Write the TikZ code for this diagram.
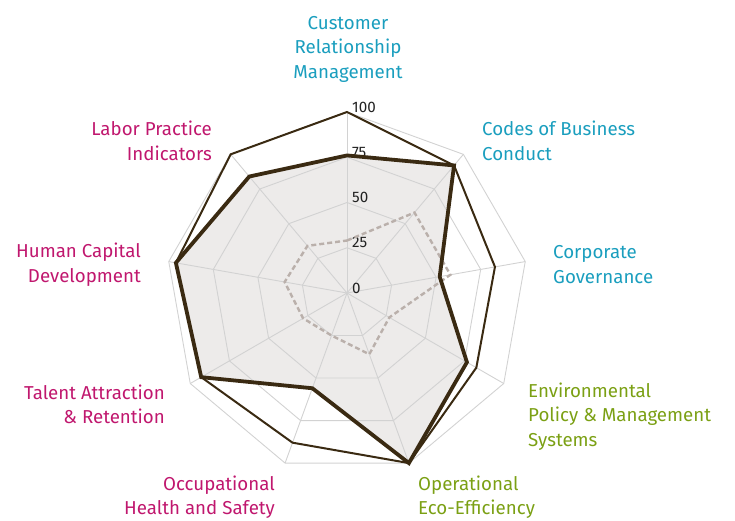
\documentclass[tikz,border=0pt]{standalone}
\usepackage{fontspec}
\setmainfont{Fira Sans}
\usetikzlibrary{arrows.meta}
\definecolor{labcyan}{HTML}{1A9EBE}
\definecolor{labgreen}{HTML}{7BA014}
\definecolor{labmagenta}{HTML}{C0176E}
\definecolor{darkbrown}{HTML}{3A2A12}
\definecolor{gridgray}{HTML}{D2D2D2}
\definecolor{fillgray}{HTML}{EDEBEA}
\definecolor{dashgray}{HTML}{BAB0AB}
\definecolor{numgray}{HTML}{222222}
\tikzset{
  gridline/.style={draw=gridgray, line width=0.9pt},
  maxline/.style={draw=darkbrown, line width=2pt, line join=miter},
  ownline/.style={draw=darkbrown, line width=3.8pt, line join=miter},
  avgline/.style={draw=dashgray, line width=2.4pt, dash pattern=on 5pt off 3pt},
  axlabel/.style={font=\fontsize{18.7}{24.5}\selectfont, inner sep=0pt},
  scalelabel/.style={font=\fontsize{15.2}{16}\selectfont, text=numgray, anchor=west, inner sep=0pt}
}

\begin{document}
\begin{tikzpicture}[x=1pt,y=1pt]
  \useasboundingbox (0,0) rectangle (735,520);

  \newcommand\K{1.81}

  \begin{scope}[shift={(347,227)}]
    \coordinate (ctr) at (0,0);

    %% series points
    \foreach \v [count=\i from 0] in {100,92,83,82.5,100,88,93,96,100}
      \coordinate (m\i) at ({90-40*\i}:{\v*\K});
    \foreach \v [count=\i from 0] in {76,92,52,76.5,100,56,93,96,84}
      \coordinate (c\i) at ({90-40*\i}:{\v*\K});
    \foreach \v [count=\i from 0] in {29,58,58,27,36,25,28,35,34}
      \coordinate (a\i) at ({90-40*\i}:{\v*\K});

    %% company area
    \fill[fillgray] (c0) -- (c1) -- (c2) -- (c3) -- (c4) -- (c5) -- (c6) -- (c7) -- (c8) -- cycle;

    %% grid
    \foreach \lev in {25,50,75,100}
      \draw[gridline] (90:{\lev*\K}) \foreach \i in {1,...,8}{ -- ({90-40*\i}:{\lev*\K}) } -- cycle;
    \foreach \i in {0,...,8}
      \draw[gridline] (ctr) -- ({90-40*\i}:{100*\K});

    %% scale
    \foreach \lev in {0,25,50,75,100}
      \node[scalelabel] (s\lev) at (5,{\lev*\K+5}) {\lev};

    %% series lines
    \draw[avgline] (a0) -- (a1) -- (a2) -- (a3) -- (a4) -- (a5) -- (a6) -- (a7) -- (a8) -- cycle;
    \draw[ownline] (c0) -- (c1) -- (c2) -- (c3) -- (c4) -- (c5) -- (c6) -- (c7) -- (c8) -- cycle;
    \draw[maxline] (m0) -- (m1) -- (m2) -- (m3) -- (m4) -- (m5) -- (m6) -- (m7) -- (m8) -- cycle;
  \end{scope}

  %% axis labels
  \node[axlabel, text=labcyan, align=center] (crm) at (348,471) {Customer\\Relationship\\Management};
  \node[axlabel, text=labcyan, align=left, anchor=west] (cbc) at (482,379) {Codes of Business\\Conduct};
  \node[axlabel, text=labcyan, align=left, anchor=west] (cg) at (553,255.5) {Corporate\\Governance};
  \node[axlabel, text=labgreen, align=left, anchor=west] (epm) at (528,103.5) {Environmental\\Policy \& Management\\Systems};
  \node[axlabel, text=labgreen, align=left, anchor=west] (oee) at (418,23) {Operational\\Eco-Efficiency};
  \node[axlabel, text=labmagenta, align=right, anchor=east] (ohs) at (275,23) {Occupational\\Health and Safety};
  \node[axlabel, text=labmagenta, align=right, anchor=east] (tar) at (165,115.5) {Talent Attraction\\\& Retention};
  \node[axlabel, text=labmagenta, align=right, anchor=east] (hcd) at (141,255.5) {Human Capital\\Development};
  \node[axlabel, text=labmagenta, align=right, anchor=east] (lpi) at (212,379) {Labor Practice\\Indicators};
\end{tikzpicture}
\end{document}
